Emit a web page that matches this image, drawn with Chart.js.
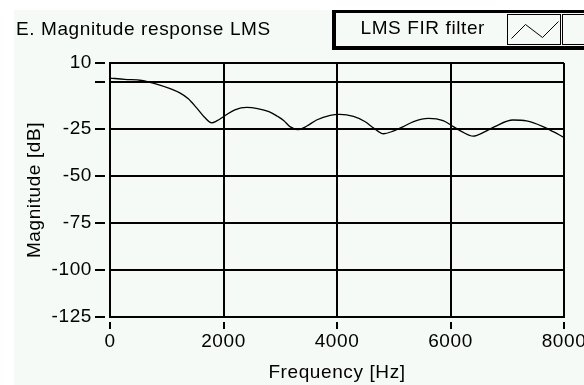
<!DOCTYPE html>
<html>
<head>
<meta charset="utf-8">
<script src="https://cdn.jsdelivr.net/npm/chart.js@4.4.0/dist/chart.umd.min.js"></script>
<style>
  html, body { margin: 0; padding: 0; background: #fff; }
  canvas { display: block; }
</style>
</head>
<body>
<canvas id="chart" width="584" height="385"></canvas>
<script>
// Magnitude response of the LMS FIR filter
const freqHz = [0, 260, 560, 790, 1060, 1230, 1380, 1530, 1670, 1790, 1880, 2030, 2200, 2410, 2600,
    2800, 2950, 3060, 3170, 3320, 3470, 3640, 3880, 4050, 4290, 4490, 4640, 4820, 4990, 5170,
    5350, 5610, 5870, 6050, 6200, 6400, 6610, 6780, 7100, 7340, 7630, 7810, 8000];
const magnitudeDb = [2.0, 1.3, 0.7, -0.9, -3.6, -5.9, -9.0, -14.0, -19.0, -21.8, -20.8, -17.9, -14.9, -13.6, -14.2,
    -15.8, -18.3, -20.5, -23.8, -25.4, -23.5, -20.3, -17.8, -17.3, -18.4, -21.1, -24.4, -27.6, -26.2, -23.8,
    -21.1, -19.4, -20.6, -23.8, -26.5, -28.9, -26.5, -23.8, -20.3, -20.8, -23.8, -26.5, -29.6];

// Axes
const xTicks = [0, 2000, 4000, 6000, 8000];
const xTickLabels = ['0', '2000', '4000', '6000', '8000'];
const yTicks = [10, 0, -25, -50, -75, -100, -125];
const yTickLabels = ['10', '', '-25', '-50', '-75', '-100', '-125'];

const seriesLabel = 'LMS FIR filter';
const fontFamily = "'Liberation Sans', Arial, sans-serif";
const fontSize = 19;
const panelColor = '#f5faf6';
const ink = '#000';
const textSpacing = '0.6px';

// Plugins
const letterSpacing = {
    id: 'letterSpacing',
    beforeUpdate(chart) { chart.ctx.letterSpacing = textSpacing; },
    beforeDraw(chart) { chart.ctx.letterSpacing = textSpacing; }
};

const panelBackground = {
    id: 'panelBackground',
    beforeDraw(chart) {
        const ctx = chart.ctx;
        ctx.save();
        ctx.fillStyle = panelColor;
        ctx.fillRect(14, 10, chart.width - 14, chart.height - 10);
        ctx.restore();
    }
};

// framed legend in the top right corner: label cell, line sample, empty cell
const boxedLegend = {
    id: 'boxedLegend',
    afterDraw(chart) {
        const ctx = chart.ctx;
        const label = chart.data.datasets[0].label;
        const left = 332, top = 10, bottom = 50, right = chart.width;
        ctx.save();
        ctx.fillStyle = ink;
        ctx.fillRect(left, top, right - left, 3);
        ctx.fillRect(left, top, 4, bottom - top);
        ctx.fillRect(left, bottom - 4, right - left, 4);

        ctx.strokeStyle = ink;
        ctx.lineWidth = 1;
        const cellTop = 14.5, cellBottom = 44.5;
        const sampleLeft = 507.5, sampleRight = 560.5;
        ctx.strokeRect(sampleLeft, cellTop, sampleRight - sampleLeft, cellBottom - cellTop);
        ctx.strokeRect(562.5, cellTop, 40, cellBottom - cellTop);

        ctx.beginPath();
        ctx.moveTo(sampleLeft + 4, cellBottom - 6);
        ctx.lineTo(sampleLeft + 18, cellTop + 10);
        ctx.lineTo(sampleLeft + 35, cellBottom - 7);
        ctx.lineTo(sampleLeft + 51, cellTop + 7);
        ctx.stroke();

        ctx.font = fontSize + 'px ' + fontFamily;
        ctx.textAlign = 'center';
        ctx.textBaseline = 'middle';
        ctx.fillText(label, (left + 4 + sampleLeft) / 2 + 1, 29);
        ctx.restore();
    }
};

const textFont = { family: fontFamily, size: fontSize, weight: 'normal', lineHeight: 1.2 };

new Chart(document.getElementById('chart'), {
    type: 'line',
    data: {
        datasets: [{
            label: seriesLabel,
            data: freqHz.map((f, i) => ({ x: f, y: magnitudeDb[i] })),
            borderColor: ink,
            borderWidth: 1.3,
            pointRadius: 0,
            cubicInterpolationMode: 'monotone',
            fill: false
        }]
    },
    options: {
        responsive: false,
        animation: false,
        devicePixelRatio: 1,
        layout: { padding: { left: 16, top: 0, right: 20, bottom: 0 } },
        plugins: {
            legend: { display: false },
            tooltip: { enabled: false },
            title: {
                display: true,
                text: 'E. Magnitude response LMS',
                align: 'start',
                color: ink,
                font: textFont,
                padding: { top: 18.6, bottom: 21.6 }
            }
        },
        scales: {
            x: {
                type: 'linear',
                min: 0,
                max: 8000,
                afterBuildTicks(scale) { scale.ticks = xTicks.map(v => ({ value: v })); },
                afterFit(scale) {
                    scale.height = 68;
                    scale.paddingLeft = 0;
                    scale.paddingRight = 0;
                },
                ticks: {
                    color: ink,
                    font: textFont,
                    padding: 1,
                    maxRotation: 0,
                    autoSkip: false,
                    callback: (v, i) => xTickLabels[i]
                },
                grid: {
                    color: ink,
                    lineWidth: 2,
                    tickLength: 12,
                    tickColor: ink,
                    tickWidth: 2,
                    tickBorderDash: [0, 4, 8, 100]
                },
                border: { display: true, color: ink, width: 2 },
                title: {
                    display: true,
                    text: 'Frequency [Hz]',
                    color: ink,
                    font: textFont,
                    padding: { top: 0, bottom: 0.6 }
                }
            },
            y: {
                type: 'linear',
                min: -125,
                max: 10,
                afterBuildTicks(scale) { scale.ticks = yTicks.map(v => ({ value: v })); },
                afterFit(scale) {
                    scale.width = 94;
                    scale.paddingTop = 0;
                    scale.paddingBottom = 0;
                },
                ticks: {
                    color: ink,
                    font: textFont,
                    padding: 3,
                    autoSkip: false,
                    callback: (v, i) => yTickLabels[i]
                },
                grid: {
                    color: ink,
                    lineWidth: 2,
                    tickLength: 15,
                    tickColor: ink,
                    tickWidth: 2,
                    tickBorderDash: [10, 100]
                },
                border: { display: true, color: ink, width: 2 },
                title: {
                    display: true,
                    text: 'Magnitude [dB]',
                    color: ink,
                    font: textFont,
                    padding: { top: 7.6, bottom: 0 }
                }
            }
        }
    },
    plugins: [letterSpacing, panelBackground, boxedLegend]
});
</script>
</body>
</html>
